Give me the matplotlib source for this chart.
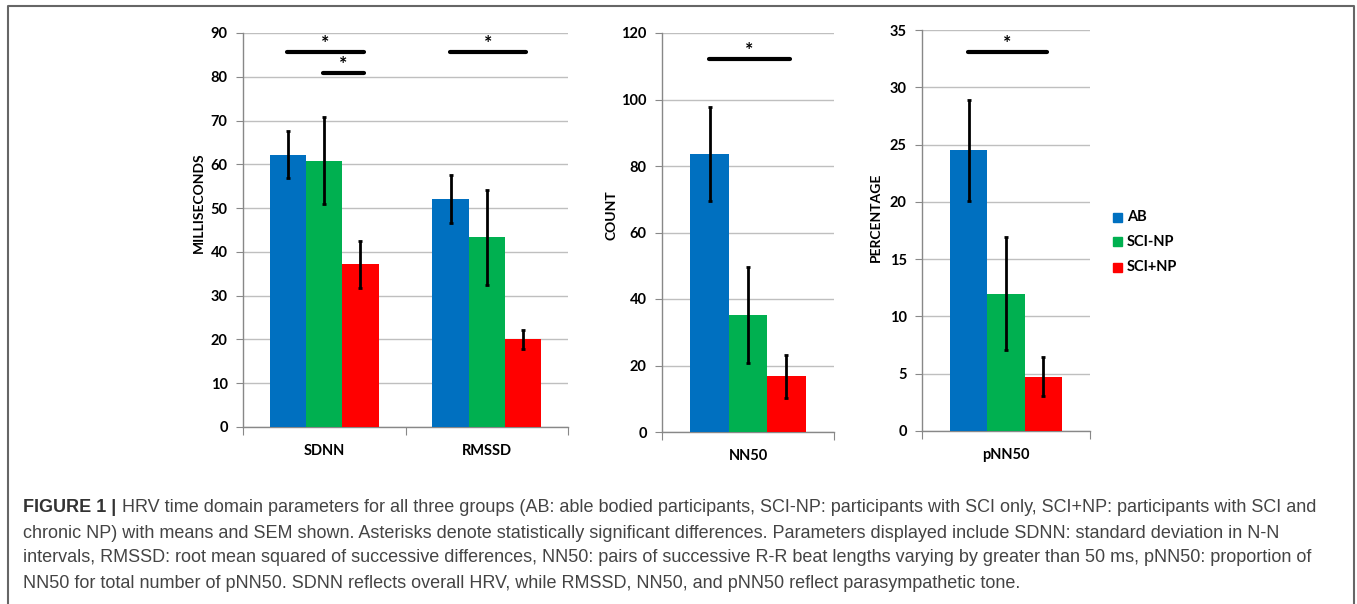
import numpy as np
import matplotlib
matplotlib.use("Agg")
import matplotlib.pyplot as plt
from matplotlib.lines import Line2D
from matplotlib.patches import Rectangle

# ---- data ----
groups = ["AB", "SCI-NP", "SCI+NP"]
colors = ["#0070C0", "#00B050", "#FF0000"]

ms_params = ["SDNN", "RMSSD"]
ms_mean = [[62.2, 52.0], [60.8, 43.3], [37.2, 20.0]]   # per group
ms_sem = [[5.4, 5.5], [9.9, 10.8], [5.4, 2.1]]

nn50_mean = [83.6, 35.2, 16.8]
nn50_sem = [14.0, 14.3, 6.5]

pnn50_mean = [24.5, 12.0, 4.75]
pnn50_sem = [4.4, 4.9, 1.7]

# significance: (category index, group i, group j, line height)
ms_sig = [(0, 0, 2, 85.7), (0, 1, 2, 80.9), (1, 0, 2, 85.7)]
nn50_sig = [(0, 0, 2, 112.2)]
pnn50_sig = [(0, 0, 2, 33.1)]

caption_lines = [
    "HRV time domain parameters for all three groups (AB: able bodied participants, "
    "SCI-NP: participants with SCI only, SCI+NP: participants with SCI and",
    "chronic NP) with means and SEM shown. Asterisks denote statistically significant "
    "differences. Parameters displayed include SDNN: standard deviation in N-N",
    "intervals, RMSSD: root mean squared of successive differences, NN50: pairs of "
    "successive R-R beat lengths varying by greater than 50 ms, pNN50: proportion of",
    "NN50 for total number of pNN50. SDNN reflects overall HRV, while RMSSD, NN50, "
    "and pNN50 reflect parasympathetic tone.",
]

FONT = "Lato"
CAP_FONT = "Liberation Sans"
W, H = 1357, 604
BW = 0.223


def px_axes(fig, left, right, top, bottom):
    return fig.add_axes([left / W, 1 - bottom / H, (right - left) / W, (bottom - top) / H])


def draw_panel(ax, cats, means, sems, ymax, ystep, ylabel, label_xy, sigs):
    x = np.arange(len(cats))
    offs = [-BW, 0, BW]
    for g in range(3):
        ax.bar(x + offs[g], means[g], BW, color=colors[g], zorder=3, label=groups[g])
        ax.errorbar(x + offs[g], means[g], yerr=sems[g], fmt="none", ecolor="black",
                    elinewidth=2, capsize=1.5, capthick=2, zorder=4)
    for c, i, j, y in sigs:
        x0 = c + offs[i] - 0.005
        x1 = c + offs[j] + 0.02
        ax.plot([x0, x1], [y, y], color="black", lw=3, solid_capstyle="round", zorder=5)
        ax.text((x0 + x1) / 2, y, "*", ha="center", va="bottom", fontsize=14,
                fontweight="bold", family=FONT)

    ax.set_xlim(-0.5, len(cats) - 0.5)
    ax.set_ylim(0, ymax)
    ax.set_yticks(np.arange(0, ymax + 0.1, ystep))
    ax.grid(axis="y", color="#BFBFBF", lw=1, zorder=0)
    ax.set_axisbelow(True)

    ax.set_xticks(np.arange(-0.5, len(cats), 1.0))
    ax.set_xticklabels([])
    ax.set_xticks(x, minor=True)
    ax.set_xticklabels(cats, minor=True, fontsize=10.5, fontweight="bold", family=FONT)
    ax.tick_params(axis="x", which="major", direction="out", length=6, color="#888888")
    ax.tick_params(axis="x", which="minor", length=0, pad=12)
    ax.tick_params(axis="y", direction="out", length=5, color="#888888", pad=6)
    for lab in ax.get_yticklabels():
        lab.set_fontsize(10.5)
        lab.set_fontweight("bold")
        lab.set_family(FONT)

    for s in ["top", "right"]:
        ax.spines[s].set_visible(False)
    for s in ["left", "bottom"]:
        ax.spines[s].set_color("#888888")
        ax.spines[s].set_linewidth(1)

    ax.set_ylabel(ylabel, fontsize=10, fontweight="bold", family=FONT)
    ax.yaxis.set_label_coords(*label_xy)


fig = plt.figure(figsize=(W / 100, H / 100), dpi=100)

ax1 = px_axes(fig, 243, 568, 33, 427)
draw_panel(ax1, ms_params, ms_mean, ms_sem, 90, 10, "MILLISECONDS", (-0.117, 0.569), ms_sig)

ax2 = px_axes(fig, 662, 834, 33, 432)
draw_panel(ax2, ["NN50"], [[v] for v in nn50_mean], [[v] for v in nn50_sem],
           120, 20, "COUNT", (-0.256, 0.544), nn50_sig)

ax3 = px_axes(fig, 922, 1090, 30, 431)
draw_panel(ax3, ["pNN50"], [[v] for v in pnn50_mean], [[v] for v in pnn50_sem],
           35, 5, "PERCENTAGE", (-0.238, 0.534), pnn50_sig)

# legend
for k, (g, c) in enumerate(zip(groups, colors)):
    yc = 217 + 25 * k
    fig.patches.append(Rectangle((1113 / W, 1 - (yc + 4.5) / H), 9 / W, 9 / H,
                                 transform=fig.transFigure, color=c))
    fig.text(1127 / W, 1 - yc / H, g, ha="left", va="center", fontsize=10.5,
             fontweight="bold", family=FONT)

# frame around the figure
frame = Line2D([8 / W, 8 / W, 1354 / W, 1354 / W], [0, 1 - 6 / H, 1 - 6 / H, 0],
               transform=fig.transFigure, color="#666666", lw=1.5)
fig.add_artist(frame)

# caption: font size chosen so the first line ends where it does in the original
cap_color = "#444444"
y0, x0, x_end = 508, 23, 1322
fs = 12
head = fig.text(x0 / W, 1 - y0 / H, "FIGURE 1 |", ha="left", va="center",
                fontsize=fs, fontweight="bold", family=CAP_FONT, color="#333333")
body = [fig.text(x0 / W, 1 - (y0 + 25 * k) / H, line, ha="left", va="center",
                 fontsize=fs, family=CAP_FONT, color=cap_color)
        for k, line in enumerate(caption_lines)]
fig.canvas.draw()
r = fig.canvas.get_renderer()
gap = 6
w_head = head.get_window_extent(r).width
w_line = body[0].get_window_extent(r).width
fs = fs * (x_end - x0) / (w_head + gap + w_line)
head.set_fontsize(fs)
for t in body:
    t.set_fontsize(fs)
fig.canvas.draw()
w_head = head.get_window_extent(r).width
body[0].set_x((x0 + w_head + gap) / W)

fig.savefig("out.png", dpi=100)
